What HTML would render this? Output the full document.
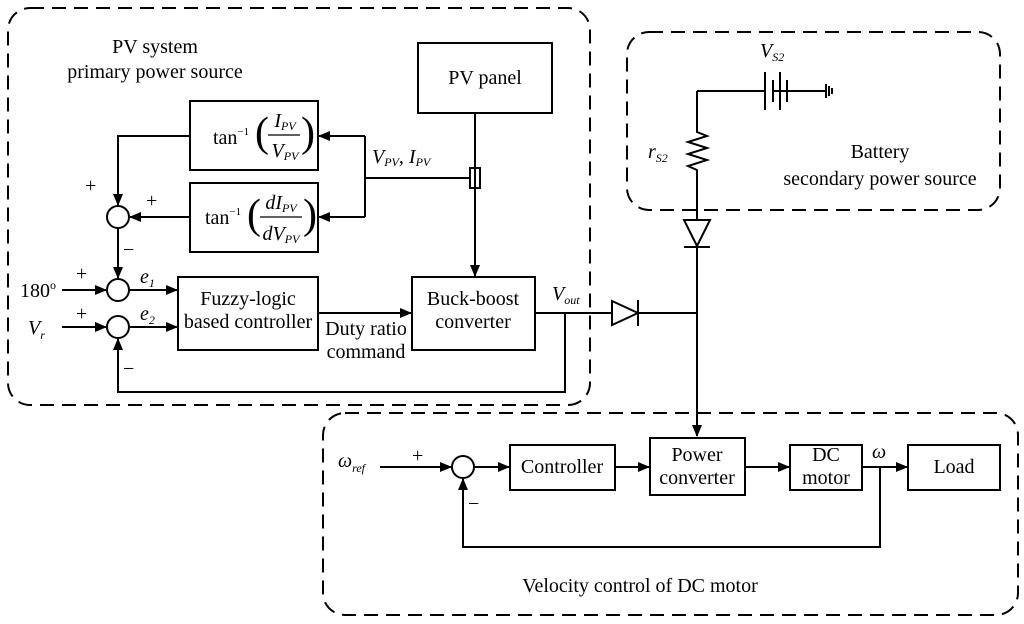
<!DOCTYPE html>
<html><head><meta charset="utf-8"><style>
body{margin:0;background:#fff}
svg{display:block}
text{font-family:"Liberation Serif",serif;fill:#000}
.i{font-style:italic}
</style></head><body>
<svg width="1024" height="624" viewBox="0 0 1024 624">
<defs><marker id="a" markerWidth="12" markerHeight="10" refX="11" refY="5" orient="auto" markerUnits="userSpaceOnUse"><path d="M0,0 L12,5 L0,10 z" fill="#000"/></marker></defs>
<g fill="none" stroke="#000" stroke-width="2" stroke-dasharray="14,8">
<rect x="8" y="8" width="582" height="397" rx="22"/>
<rect x="627" y="32" width="373" height="178" rx="22"/>
<rect x="323" y="413" width="695" height="202" rx="22"/>
</g>
<g fill="none" stroke="#000" stroke-width="2">
<rect x="418" y="43" width="134" height="70"/>
<rect x="190" y="101" width="128" height="69"/>
<rect x="190" y="183" width="128" height="69"/>
<rect x="178" y="277" width="140" height="73"/>
<rect x="412" y="277" width="123" height="73"/>
<circle cx="118" cy="217" r="11"/>
<circle cx="118" cy="290" r="11"/>
<circle cx="118" cy="327" r="11"/>
<rect x="470" y="168" width="10" height="20"/>
<path d="M190,136 H118 V205" marker-end="url(#a)"/>
<path d="M190,217 H130" marker-end="url(#a)"/>
<path d="M118,228 V278" marker-end="url(#a)"/>
<path d="M62,290 H106" marker-end="url(#a)"/>
<path d="M129,290 H177" marker-end="url(#a)"/>
<path d="M62,327 H106" marker-end="url(#a)"/>
<path d="M129,327 H177" marker-end="url(#a)"/>
<path d="M565,313 V392 H118 V339" marker-end="url(#a)"/>
<path d="M475,113 V276" marker-end="url(#a)"/>
<path d="M470,178 H365"/>
<path d="M365,136 V217"/>
<path d="M365,136 H319" marker-end="url(#a)"/>
<path d="M365,217 H319" marker-end="url(#a)"/>
<path d="M318,313 H411" marker-end="url(#a)"/>
<path d="M535,313 H612 M638,313 H697"/>
<path d="M612,301 L638,313 L612,325 Z"/>
<path d="M638,300 V326"/>
<path d="M697,91 H765 M773,91 H826"/>
<path d="M765,72 V110 M773,80 V102 M780,72 V110 M787,80 V102"/>
<path d="M826,84 V98 M829,86 V96 M832,88 V94"/>
<path d="M697,91 V132 L707,136 L688,142 L707,148 L688,154 L707,160 L688,166 L697,170 V220"/>
<path d="M684,220 H710 L697,246 Z M684,247 H710"/>
<path d="M697,246 V436" marker-end="url(#a)"/>
<rect x="650" y="438" width="95" height="57"/>
<rect x="510" y="445" width="105" height="45"/>
<rect x="790" y="445" width="72" height="45"/>
<rect x="908" y="445" width="92" height="45"/>
<circle cx="463" cy="467" r="11"/>
<path d="M380,467 H451" marker-end="url(#a)"/>
<path d="M474,467 H509" marker-end="url(#a)"/>
<path d="M615,467 H649" marker-end="url(#a)"/>
<path d="M745,467 H789" marker-end="url(#a)"/>
<path d="M862,467 H907" marker-end="url(#a)"/>
<path d="M880,467 V547 H463 V479" marker-end="url(#a)"/>
</g>
<g font-size="20">
<text x="155" y="53" text-anchor="middle">PV system</text>
<text x="155" y="78" text-anchor="middle">primary power source</text>
<text x="485" y="84" text-anchor="middle">PV panel</text>
<text x="248" y="305" text-anchor="middle">Fuzzy-logic</text>
<text x="248" y="328" text-anchor="middle">based controller</text>
<text x="473" y="305" text-anchor="middle">Buck-boost</text>
<text x="473" y="328" text-anchor="middle">converter</text>
<text x="366" y="335" text-anchor="middle">Duty ratio</text>
<text x="366" y="358" text-anchor="middle">command</text>
<text x="880" y="158" text-anchor="middle">Battery</text>
<text x="880" y="185" text-anchor="middle">secondary power source</text>
<text x="562" y="473" text-anchor="middle">Controller</text>
<text x="697" y="461" text-anchor="middle">Power</text>
<text x="697" y="484" text-anchor="middle">converter</text>
<text x="826" y="461" text-anchor="middle">DC</text>
<text x="826" y="484" text-anchor="middle">motor</text>
<text x="954" y="473" text-anchor="middle">Load</text>
<text x="640" y="592" text-anchor="middle">Velocity control of DC motor</text>
<text x="20" y="297">180<tspan font-size="12" dy="-8">o</tspan></text>
<text x="28" y="334" class="i">V<tspan font-size="12" dy="5">r</tspan></text>
<text x="85" y="192">+</text>
<text x="146" y="207">+</text>
<text x="123" y="256">−</text>
<text x="76" y="280">+</text>
<text x="76" y="320">+</text>
<text x="123" y="375">−</text>
<text x="140" y="283" class="i">e<tspan font-size="12" dy="4">1</tspan></text>
<text x="140" y="320" class="i">e<tspan font-size="12" dy="4">2</tspan></text>
<text x="213" y="144">tan<tspan font-size="11" dy="-9">−1</tspan></text>
<text x="255" y="146" font-size="42" font-weight="100">(</text>
<text x="301" y="146" font-size="42" font-weight="100">)</text>
<text x="285" y="127" text-anchor="middle" class="i">I<tspan font-size="12" dy="3">PV</tspan></text>
<line x1="268" y1="135" x2="300" y2="135" stroke="#000" stroke-width="1.2"/>
<text x="285" y="157" text-anchor="middle" class="i">V<tspan font-size="12" dy="3">PV</tspan></text>
<text x="205" y="224">tan<tspan font-size="11" dy="-9">−1</tspan></text>
<text x="247" y="228" font-size="42" font-weight="100">(</text>
<text x="303" y="228" font-size="42" font-weight="100">)</text>
<text x="281" y="209" text-anchor="middle" class="i">dI<tspan font-size="12" dy="3">PV</tspan></text>
<line x1="260" y1="217" x2="302" y2="217" stroke="#000" stroke-width="1.2"/>
<text x="281" y="240" text-anchor="middle" class="i">dV<tspan font-size="12" dy="3">PV</tspan></text>
<text x="372" y="163" class="i">V<tspan font-size="12" dy="3">PV</tspan><tspan dy="-3" font-style="normal">,  </tspan>I<tspan font-size="12" dy="3">PV</tspan></text>
<text x="552" y="300" class="i">V<tspan font-size="12" dy="4">out</tspan></text>
<text x="760" y="57" class="i">V<tspan font-size="12" dy="4">S2</tspan></text>
<text x="648" y="158" class="i">r<tspan font-size="12" dy="4">S2</tspan></text>
<text x="338" y="467" class="i">ω<tspan font-size="12" dy="5">ref</tspan></text>
<text x="412" y="462">+</text>
<text x="468" y="510">−</text>
<text x="872" y="458" class="i">ω</text>
</g>
</svg>
</body></html>
